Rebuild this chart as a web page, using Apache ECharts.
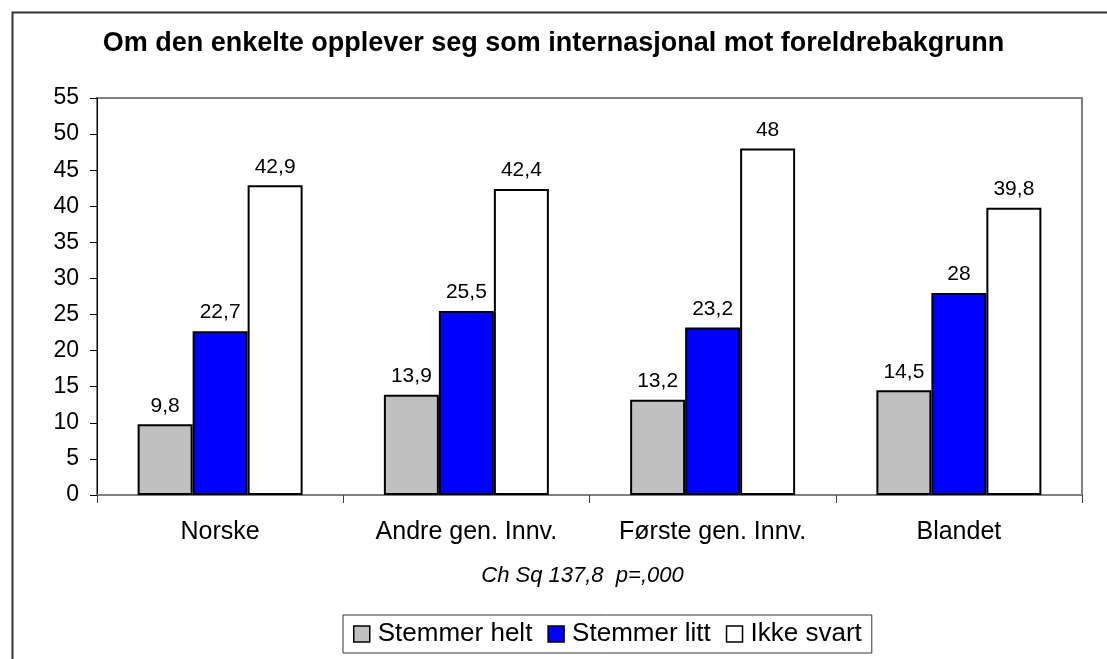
<!DOCTYPE html>
<html>
<head>
<meta charset="utf-8">
<script src="https://cdn.jsdelivr.net/npm/echarts@6/dist/echarts.min.js"></script>
<style>
  html, body { margin: 0; padding: 0; background: #fff; }
  #panel { width: 1107px; height: 659px; }
</style>
</head>
<body>
<div id="panel"></div>
<script>
// data
var categories = ['Norske', 'Andre gen. Innv.', 'Første gen. Innv.', 'Blandet'];
var helt = [9.8, 13.9, 13.2, 14.5];
var litt = [22.7, 25.5, 23.2, 28];
var ikkeSvart = [42.9, 42.4, 48, 39.8];
var seriesNames = ['Stemmer helt', 'Stemmer litt', 'Ikke svart'];
var yTicks = { min: 0, max: 55, interval: 5 };

var font = 'Liberation Sans, Arial, sans-serif';

var dom = document.getElementById('panel');
var myChart = echarts.init(dom, null, { renderer: 'canvas' });

function commaLabel(p) {
    return String(p.value).replace('.', ',');
}

function barSeries(name, data, color) {
    return {
        name: name,
        type: 'bar',
        data: data,
        barGap: '0%',
        barCategoryGap: '33%',
        itemStyle: {
            color: color,
            borderColor: '#000',
            borderWidth: 2
        },
        label: {
            show: true,
            position: 'top',
            distance: 8,
            color: '#000',
            fontFamily: font,
            fontSize: 21,
            formatter: commaLabel
        }
    };
}

var option = {
    backgroundColor: '#fff',
    animation: false,
    title: {
        text: 'Om den enkelte opplever seg som internasjonal mot foreldrebakgrunn',
        left: 'center',
        top: 25,
        textStyle: {
            color: '#000',
            fontFamily: font,
            fontWeight: 'bold',
            fontSize: 27
        }
    },
    legend: {
        data: seriesNames,
        left: 343,
        top: 615,
        orient: 'horizontal',
        icon: 'rect',
        itemWidth: 16,
        itemHeight: 16,
        itemGap: 15,
        padding: [6, 10, 6, 10],
        borderColor: '#333',
        borderWidth: 1,
        itemStyle: {
            borderColor: '#000',
            borderWidth: 1.5
        },
        textStyle: {
            color: '#000',
            fontFamily: font,
            fontSize: 26,
            padding: [0, 0, 0, 3]
        }
    },
    grid: {
        left: 97,
        right: 25,
        top: 98,
        bottom: 164,
        show: true,
        borderColor: '#808080',
        borderWidth: 2,
        backgroundColor: '#fff'
    },
    xAxis: {
        type: 'category',
        data: categories,
        name: 'Ch Sq 137,8  p=,000',
        nameLocation: 'middle',
        nameGap: 70,
        nameTextStyle: {
            color: '#000',
            fontFamily: font,
            fontStyle: 'italic',
            fontSize: 22,
            padding: [0, 14, 0, 0]
        },
        axisLine: {
            show: true,
            lineStyle: { color: '#808080', width: 2 }
        },
        axisTick: {
            show: true,
            alignWithLabel: false,
            length: 8,
            lineStyle: { color: '#404040', width: 1 }
        },
        axisLabel: {
            interval: 0,
            margin: 25,
            color: '#000',
            fontFamily: font,
            fontSize: 25
        },
        splitLine: { show: false }
    },
    yAxis: {
        type: 'value',
        min: yTicks.min,
        max: yTicks.max,
        interval: yTicks.interval,
        axisLine: {
            show: true,
            lineStyle: { color: '#000', width: 1 }
        },
        axisTick: {
            show: true,
            length: 7,
            lineStyle: { color: '#000', width: 1 }
        },
        axisLabel: {
            margin: 18,
            color: '#000',
            fontFamily: font,
            fontSize: 23
        },
        splitLine: { show: false }
    },
    graphic: [
        {
            // outer frame, only its top and left edges fall inside the picture
            type: 'rect',
            left: 10,
            top: 10,
            z: -10,
            shape: { width: 1400, height: 900 },
            style: { fill: 'none', stroke: '#333', lineWidth: 2 }
        }
    ],
    series: [
        barSeries(seriesNames[0], helt, '#C0C0C0'),
        barSeries(seriesNames[1], litt, '#0000FF'),
        barSeries(seriesNames[2], ikkeSvart, '#FFFFFF')
    ]
};

if (option && typeof option === 'object') {
    myChart.setOption(option, true);
}
</script>
</body>
</html>
